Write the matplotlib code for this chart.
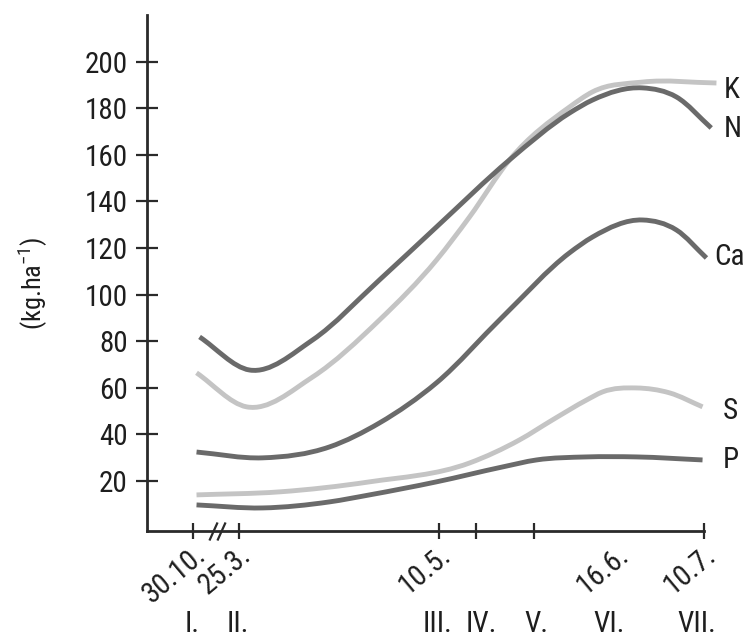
import matplotlib
matplotlib.use('Agg')
import matplotlib.pyplot as plt
import numpy as np
from matplotlib.path import Path
from matplotlib.patches import PathPatch
from matplotlib import font_manager
from matplotlib.transforms import offset_copy

names = {f.name for f in font_manager.fontManager.ttflist}
FONT = 'Roboto Condensed' if 'Roboto Condensed' in names else 'Liberation Sans'
plt.rcParams['font.family'] = [FONT, 'DejaVu Sans']
plt.rcParams['mathtext.fontset'] = 'custom'
plt.rcParams['mathtext.rm'] = FONT
plt.rcParams['mathtext.it'] = FONT
plt.rcParams['mathtext.default'] = 'regular'

# ---------------- data (x = days after 25 March; autumn side before the break) ----
n_x = [-9.0, 2.5, 17.0, 32.4, 45.5, 62.3, 76.1, 81.4, 92.9, 100.7, 108.7]
n_y = [81.8, 67.6, 80.5, 106.3, 129.0, 157.8, 177.9, 183.5, 188.7, 184.8, 171.5]

k_x = [-9.7, 1.8, 17.0, 32.4, 45.5, 53.1, 62.3, 76.1, 81.4, 92.9, 109.9]
k_y = [66.4, 51.8, 64.6, 89.1, 114.8, 133.3, 157.8, 180.5, 187.0, 191.2, 190.8]

ca_x = [-9.7, 5.5, 20.9, 32.4, 45.5, 60.7, 76.1, 81.4, 92.9, 100.7, 107.6]
ca_y = [32.4, 29.9, 34.6, 44.9, 62.1, 90.4, 117.9, 124.7, 132.0, 127.7, 115.7]

s_x = [-9.7, 9.4, 30.1, 53.1, 64.6, 72.2, 80.0, 83.7, 91.5, 99.1, 106.7]
s_y = [14.0, 15.3, 19.6, 27.7, 37.6, 46.2, 54.7, 58.2, 59.9, 57.8, 51.8]

p_x = [-9.7, 5.5, 20.9, 30.1, 45.5, 60.7, 68.5, 80.0, 91.5, 106.7]
p_y = [9.7, 8.4, 11.0, 14.0, 19.6, 26.0, 29.0, 30.3, 30.3, 29.0]

series_names = ['K', 'N', 'Ca', 'S', 'P']
series_x = [k_x, n_x, ca_x, s_x, p_x]
series_y = [k_y, n_y, ca_y, s_y, p_y]
series_color = ['#c4c4c4', '#6a6a6a', '#6a6a6a', '#c4c4c4', '#6a6a6a']
label_x = [111.5, 111.5, 109.4, 111.3, 111.3]
label_y = [188, 171, 116, 50, 29]

tick_pos = [-10.5, 0, 46, 54.5, 68, 107]
date_labels = ['30.10.', '25.3.', '10.5.', '16.6.', '10.7.']
date_pos = [-10.5, 0, 46, 87, 107]
stage_labels = ['I.', 'II.', 'III.', 'IV.', 'V.', 'VI.', 'VII.']
stage_pos = [-10.8, -0.2, 45.7, 55.9, 68.5, 85.3, 105.3]
y_ticks = [20, 40, 60, 80, 100, 120, 140, 160, 180, 200]


def smooth_path(xs, ys):
    xs = np.asarray(xs, float)
    ys = np.asarray(ys, float)
    n = len(xs)
    h = np.diff(xs)
    d = np.diff(ys) / h
    m = np.empty(n)
    m[0] = d[0]
    m[-1] = d[-1]
    for i in range(1, n - 1):
        m[i] = (d[i - 1] * h[i] + d[i] * h[i - 1]) / (h[i - 1] + h[i])
    verts = [(xs[0], ys[0])]
    codes = [Path.MOVETO]
    for i in range(n - 1):
        verts += [(xs[i] + h[i] / 3, ys[i] + m[i] * h[i] / 3),
                  (xs[i + 1] - h[i] / 3, ys[i + 1] - m[i + 1] * h[i] / 3),
                  (xs[i + 1], ys[i + 1])]
        codes += [Path.CURVE4] * 3
    return Path(verts, codes)


fig = plt.figure(figsize=(7.56, 6.37), dpi=100)
ax = fig.add_axes([0.1944, 0.1664, 0.7826, 0.8101])
ax.set_xlim(-21.1, 115)
ax.set_ylim(-1.5, 220)

TXT = '#1e1e1e'
AX = '#2a2a2a'
FS = 21

for name, xs, ys, col in zip(series_names, series_x, series_y, series_color):
    patch = PathPatch(smooth_path(xs, ys), facecolor='none', edgecolor=col,
                      lw=3.5, capstyle='butt', clip_on=False, zorder=3)
    ax.add_patch(patch)

for name, lx, ly in zip(series_names, label_x, label_y):
    ax.text(lx, ly, name, fontsize=FS, color=TXT, ha='left', va='center',
            clip_on=False)

for side in ['top', 'right']:
    ax.spines[side].set_visible(False)
for side in ['left', 'bottom']:
    ax.spines[side].set_linewidth(2.0)
    ax.spines[side].set_color(AX)
ax.spines['bottom'].set_bounds(-21.1, 107)

ax.set_yticks(y_ticks)
ax.set_yticklabels([str(v) for v in y_ticks])
ax.tick_params(axis='y', direction='inout', length=16, width=1.6, colors=AX,
               labelsize=FS, labelcolor=TXT, pad=6)
ax.set_xticks(tick_pos)
ax.set_xticklabels([''] * len(tick_pos))
ax.tick_params(axis='x', direction='inout', length=12, width=1.6, colors=AX)

trans_dates = offset_copy(ax.transData, fig=fig, x=10, y=-19, units='points')
for lab, xp in zip(date_labels, date_pos):
    ax.text(xp, -1.5, lab, transform=trans_dates, rotation=40, ha='right',
            va='baseline', rotation_mode='anchor', fontsize=FS, color=TXT,
            clip_on=False)

for lab, xp in zip(stage_labels, stage_pos):
    ax.text(xp, -41.5, lab, ha='center', va='center', fontsize=FS, color=TXT,
            clip_on=False)

# axis break marks
slash = [(-0.45, -1), (0.45, 1)]
ax.plot([-5.9, -4.1], [-1.5, -1.5], linestyle='none', marker=slash,
        markersize=13, markeredgewidth=1.6, color=AX, clip_on=False, zorder=4)

fig.text(33 / 756, 1 - 283 / 637, '(kg.ha$^{-1}$)', rotation=90, ha='center',
         va='center', fontsize=19, color=TXT)

fig.savefig('out.png', dpi=100, facecolor='white')
